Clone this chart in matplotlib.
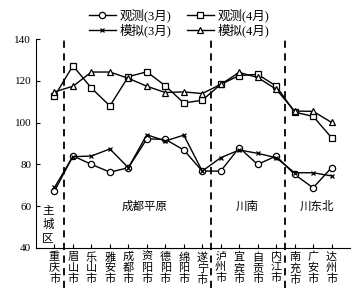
import numpy as np
import matplotlib
matplotlib.use('Agg')
import matplotlib.pyplot as plt

plt.rcParams['font.family'] = ['Liberation Serif', 'Noto Sans CJK SC']
plt.rcParams['axes.unicode_minus'] = False

cities = ['重庆市', '眉山市', '乐山市', '雅安市', '成都市', '资阳市', '德阳市', '绵阳市',
          '遂宁市', '泸州市', '宜宾市', '自贡市', '内江市', '南充市', '广安市', '达州市']
obs_mar = [67.2, 84.1, 80.0, 76.3, 78.4, 92.2, 92.0, 86.9, 76.8, 76.8, 88.0, 80.0, 84.0, 75.2, 68.8, 78.4]
obs_apr = [112.6, 127.2, 116.5, 108.0, 122.0, 124.3, 117.6, 109.4, 110.7, 118.3, 122.5, 123.1, 117.5, 105.0, 103.0, 92.8]
sim_mar = [69.0, 83.7, 84.0, 87.4, 78.4, 94.2, 91.2, 94.0, 76.8, 83.2, 86.9, 85.3, 83.2, 76.0, 76.0, 74.5]
sim_apr = [114.7, 117.4, 124.2, 124.2, 121.2, 117.4, 114.4, 114.7, 113.9, 118.3, 124.0, 121.6, 116.0, 105.5, 105.4, 100.1]
dividers = [0.5, 8.5, 12.5]
regions = [('主\n城\n区', -0.35, 51), ('成都平原', 4.9, 59.6), ('川南', 10.45, 59.6), ('川东北', 14.2, 59.6)]

x = np.arange(len(cities))

fig = plt.figure(figsize=(3.58, 2.94), dpi=100)
ax = fig.add_axes([0.1006, 0.1565, 0.8771, 0.7108])

mk = dict(color='k', lw=1.0, ms=4.5, mfc='white', mec='k', mew=0.9)
l1, = ax.plot(x, obs_mar, marker='o', label='观测(3月)', **mk)
l2, = ax.plot(x, obs_apr, marker='s', label='观测(4月)', **dict(mk, ms=4))
l3, = ax.plot(x, sim_mar, marker='x', label='模拟(3月)', **dict(mk, ms=3.5))
l4, = ax.plot(x, sim_apr, marker='^', label='模拟(4月)', **mk)

for d in dividers:
    ax.plot([d, d], [21, 140], color='k', lw=1.3, ls=(0, (4, 3)), clip_on=False)

for txt, tx, ty in regions:
    ax.text(tx, ty, txt, ha='center', va='center', fontsize=8.3, linespacing=1.2)

ax.set_xlim(-1, 16)
ax.set_ylim(40, 140)
ax.set_yticks([40, 60, 80, 100, 120, 140])
ax.set_xticks(x)
ax.set_xticklabels(['\n'.join(c) for c in cities], fontsize=8, linespacing=1.05)
ax.tick_params(direction='in', length=3, width=0.8, labelsize=8)
ax.tick_params(axis='x', pad=3)
for s in ['top', 'right']:
    ax.spines[s].set_visible(False)
for s in ['left', 'bottom']:
    ax.spines[s].set_linewidth(0.8)

fig.legend([l1, l3, l2, l4], ['观测(3月)', '模拟(3月)', '观测(4月)', '模拟(4月)'],
           loc='upper center', bbox_to_anchor=(0.5, 1.01), ncol=2, frameon=False,
           fontsize=9, handlelength=2.2, handletextpad=0.3, columnspacing=1.2,
           labelspacing=0.1)

fig.savefig('out.png', dpi=100)
